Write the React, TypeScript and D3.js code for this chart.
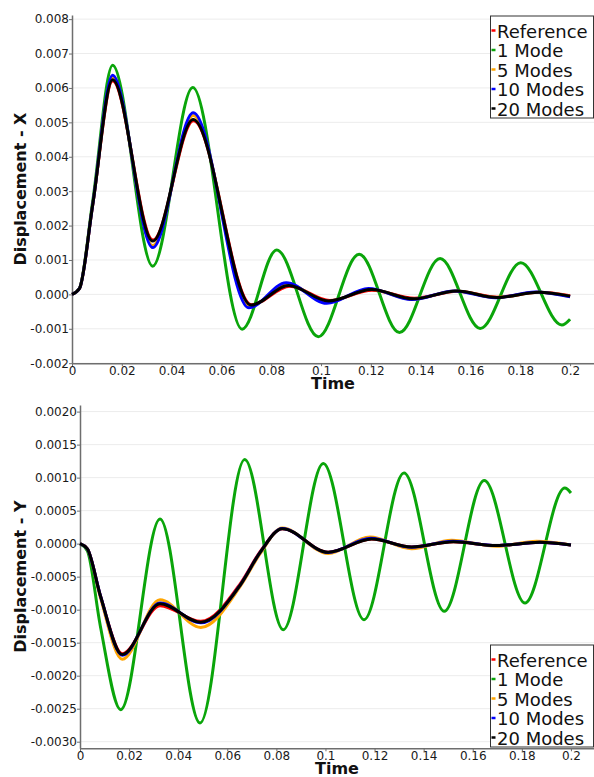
import React, { useEffect, useMemo, useRef } from "react";
import * as d3 from "d3";

type Pt = [number, number];

const seriesNames = ["Reference", "1 Mode", "5 Modes", "10 Modes", "20 Modes"];
const seriesColors = ["#ff0000", "#0aa50a", "#ffa500", "#0000ff", "#000000"];

const timeTicks = [0, 0.02, 0.04, 0.06, 0.08, 0.1, 0.12, 0.14, 0.16, 0.18, 0.2];
const dispXTicks = [-0.002, -0.001, 0, 0.001, 0.002, 0.003, 0.004, 0.005, 0.006, 0.007, 0.008];
const dispYTicks = [-0.003, -0.0025, -0.002, -0.0015, -0.001, -0.0005, 0, 0.0005, 0.001, 0.0015, 0.002];

// Displacement - X  (time, value)
const xReference: Pt[] = [
  [0, 0], [0.003, 0.00017], [0.0083, 0.0026], [0.0163, 0.0062], [0.0325, 0.00158], [0.0488, 0.00505], [0.072, -0.0003],
  [0.0875, 0.00024], [0.1035, -0.00018], [0.1205, 0.00012], [0.1375, -0.00011], [0.1548, 0.00009],
  [0.171, -0.00008], [0.1876, 0.00006], [0.2, -0.00004]
];
const xMode1: Pt[] = [
  [0, 0], [0.003, 0.00018], [0.0083, 0.0027], [0.0163, 0.00666], [0.0324, 0.00082], [0.0485, 0.00601], [0.0683, -0.00101],
  [0.0822, 0.00129], [0.0989, -0.00123], [0.1153, 0.00117], [0.1315, -0.00111], [0.1478, 0.00104],
  [0.1639, -0.00099], [0.1802, 0.00092], [0.1967, -0.00089], [0.2, -0.00072]
];
const xMode5: Pt[] = [
  [0, 0], [0.003, 0.00017], [0.0083, 0.0026], [0.0163, 0.00631], [0.0324, 0.00142], [0.0487, 0.0052], [0.0714, -0.00035],
  [0.0865, 0.0003], [0.1027, -0.00022], [0.1197, 0.00015], [0.1368, -0.00014], [0.154, 0.0001],
  [0.1703, -0.00009], [0.1867, 0.00006], [0.2, -0.00006]
];
const xMode10: Pt[] = [
  [0, 0], [0.003, 0.00017], [0.0083, 0.0026], [0.0163, 0.00637], [0.0324, 0.00136], [0.0487, 0.00528], [0.071, -0.00039],
  [0.086, 0.00034], [0.1023, -0.00026], [0.1191, 0.00017], [0.1365, -0.00015], [0.1536, 0.0001],
  [0.17, -0.0001], [0.186, 0.00007], [0.2, -0.00007]
];
const xMode20: Pt[] = [
  [0, 0], [0.003, 0.00017], [0.0083, 0.0026], [0.0163, 0.00624], [0.0324, 0.00155], [0.0487, 0.00508], [0.0719, -0.00031],
  [0.087, 0.00026], [0.103, -0.00019], [0.1203, 0.00014], [0.1371, -0.00013], [0.1545, 0.0001],
  [0.1706, -0.00009], [0.1873, 0.00006], [0.2, -0.00005]
];

// Displacement - Y  (time, value)
const yReference: Pt[] = [
  [0, 0], [0.003, -0.00008], [0.0084, -0.0008], [0.0172, -0.001667], [0.0326, -0.00094], [0.0492, -0.001177], [0.0654, -0.0006],
  [0.0736, -0.00011], [0.0824, 0.000225], [0.1011, -0.00013], [0.1188, 0.00007], [0.1351, -0.00005],
  [0.1521, 0.00003], [0.1697, -0.00003], [0.1874, 0.00002], [0.2, -0.00002]
];
const yMode1: Pt[] = [
  [0, 0], [0.003, -0.00011], [0.0083, -0.00125], [0.0166, -0.002515], [0.0326, 0.000374], [0.0489, -0.002717], [0.0671, 0.001273],
  [0.0828, -0.001303], [0.0991, 0.001215], [0.1157, -0.001152], [0.132, 0.001071], [0.1484, -0.001025],
  [0.1647, 0.000955], [0.1813, -0.000899], [0.1975, 0.000843], [0.2, 0.000768]
];
const yMode5: Pt[] = [
  [0, 0], [0.003, -0.00008], [0.0084, -0.00083], [0.0172, -0.00175], [0.0326, -0.00085], [0.0492, -0.00127], [0.0654, -0.00064],
  [0.0736, -0.00014], [0.0824, 0.000237], [0.1011, -0.00015], [0.1181, 0.0001], [0.1351, -0.000076],
  [0.1514, 0.00005], [0.1697, -0.00004], [0.186, 0.000035], [0.2, -0.00002]
];
const yMode10: Pt[] = [
  [0, 0], [0.003, -0.00008], [0.0084, -0.0008], [0.0172, -0.00169], [0.0326, -0.0009], [0.0492, -0.0012], [0.0654, -0.00062],
  [0.0736, -0.00012], [0.0824, 0.000228], [0.1011, -0.000135], [0.1185, 0.00008], [0.1351, -0.000055],
  [0.1518, 0.000035], [0.1697, -0.00003], [0.1872, 0.00002], [0.2, -0.00002]
];
const yMode20: Pt[] = [
  [0, 0], [0.003, -0.00008], [0.0084, -0.0008], [0.0172, -0.00168], [0.0326, -0.00091], [0.0492, -0.00119], [0.0654, -0.00062],
  [0.0736, -0.00012], [0.0824, 0.000227], [0.1011, -0.000131], [0.1188, 0.00007], [0.1351, -0.00005],
  [0.1521, 0.00003], [0.1697, -0.00003], [0.1874, 0.00002], [0.2, -0.00002]
];

const FONT = "DejaVu Sans, sans-serif";
const RIGHT = 594;

type ChartProps = {
  left: number;
  top: number;
  bottom: number;
  xMax: number;
  yDomain: [number, number];
  yTicks: number[];
  yDigits: number;
  yTitle: string;
  series: Pt[][];
  legendTop: number;
};

const Chart = ({ left, top, bottom, xMax, yDomain, yTicks, yDigits, yTitle, series, legendTop }: ChartProps) => {
  const width = RIGHT - left;
  const height = bottom - top;
  const axesRef = useRef<SVGGElement>(null);

  const xScale = useMemo(() => d3.scaleLinear().domain([0, xMax]).range([0, width]), [xMax, width]);
  const yScale = useMemo(() => d3.scaleLinear().domain(yDomain).range([height, 0]), [yDomain, height]);

  useEffect(() => {
    const g = d3.select(axesRef.current);
    g.selectAll("*").remove();

    // grid lines
    g.append("g")
      .selectAll("line")
      .data(yTicks)
      .enter()
      .append("line")
      .attr("x1", 0)
      .attr("x2", width)
      .attr("y1", (d) => yScale(d))
      .attr("y2", (d) => yScale(d))
      .attr("stroke", "#ececec")
      .attr("stroke-width", 1);

    const yAxis = g.append("g").call(
      d3.axisLeft(yScale)
        .tickValues(yTicks)
        .tickFormat((d) => (+d).toFixed(yDigits))
        .tickSizeInner(3)
        .tickSizeOuter(0)
        .tickPadding(0)
    );
    const xAxis = g.append("g")
      .attr("transform", `translate(0,${height})`)
      .call(
        d3.axisBottom(xScale)
          .tickValues(timeTicks)
          .tickFormat((d) => String(+(+d).toFixed(2)))
          .tickSizeInner(3)
          .tickSizeOuter(0)
          .tickPadding(0)
      );
    [xAxis, yAxis].forEach((a) => {
      a.selectAll(".domain").attr("stroke", "#6e6e6e").attr("stroke-width", 1.5);
      a.selectAll(".tick line").attr("stroke", "#6e6e6e");
      a.selectAll("text").attr("fill", "#1a1a1a").style("font-family", FONT).style("font-size", "12px");
    });
  }, [xScale, yScale, width, height, yTicks, yDigits]);

  const line = d3.line<Pt>()
    .x((d) => xScale(d[0]))
    .y((d) => yScale(d[1]))
    .curve(d3.curveMonotoneX);

  const rowH = 19.5;
  return (
    <g>
      <g transform={`translate(${left},${top})`}>
        <g ref={axesRef}></g>
        {series.map((s, i) => (
          <path key={i} d={line(s) || ""} fill="none" stroke={seriesColors[i]} strokeWidth={3} strokeLinejoin="round" />
        ))}
      </g>
      <text
        transform={`translate(20,${top + height / 2}) rotate(-90)`}
        textAnchor="middle"
        dominantBaseline="central"
        fontFamily={FONT}
        fontWeight="bold"
        fontSize={16}
        fill="#111"
      >
        {yTitle}
      </text>
      <text x={(left + RIGHT) / 2} y={bottom + 26} textAnchor="middle" fontFamily={FONT} fontWeight="bold" fontSize={16} fill="#111">
        Time
      </text>
      <g>
        <rect x={490.5} y={legendTop} width={103} height={102} fill="#fff" stroke="#333" strokeWidth={1} />
        {seriesNames.map((name, i) => {
          const base = legendTop + 21.5 + i * rowH;
          return (
            <g key={name}>
              <line x1={491.5} x2={495.5} y1={base - 7} y2={base - 7} stroke={seriesColors[i]} strokeWidth={2.5} />
              <text x={497} y={base} fontFamily={FONT} fontSize={18} fill="#111">
                {name}
              </text>
            </g>
          );
        })}
      </g>
    </g>
  );
};

export default function App() {
  return (
    <div>
      <svg width={594} height={777} style={{ position: "absolute", left: 0, top: 0, background: "#fff" }}>
        <Chart
          left={72}
          top={15}
          bottom={363.2}
          xMax={0.2096}
          yDomain={[-0.002, 0.00812]}
          yTicks={dispXTicks}
          yDigits={3}
          yTitle="Displacement - X"
          series={[xReference, xMode1, xMode5, xMode10, xMode20]}
          legendTop={16}
        />
        <Chart
          left={80}
          top={405}
          bottom={748.3}
          xMax={0.2094}
          yDomain={[-0.0031, 0.0021]}
          yTicks={dispYTicks}
          yDigits={4}
          yTitle="Displacement - Y"
          series={[yReference, yMode1, yMode5, yMode10, yMode20]}
          legendTop={645}
        />
      </svg>
    </div>
  );
}
